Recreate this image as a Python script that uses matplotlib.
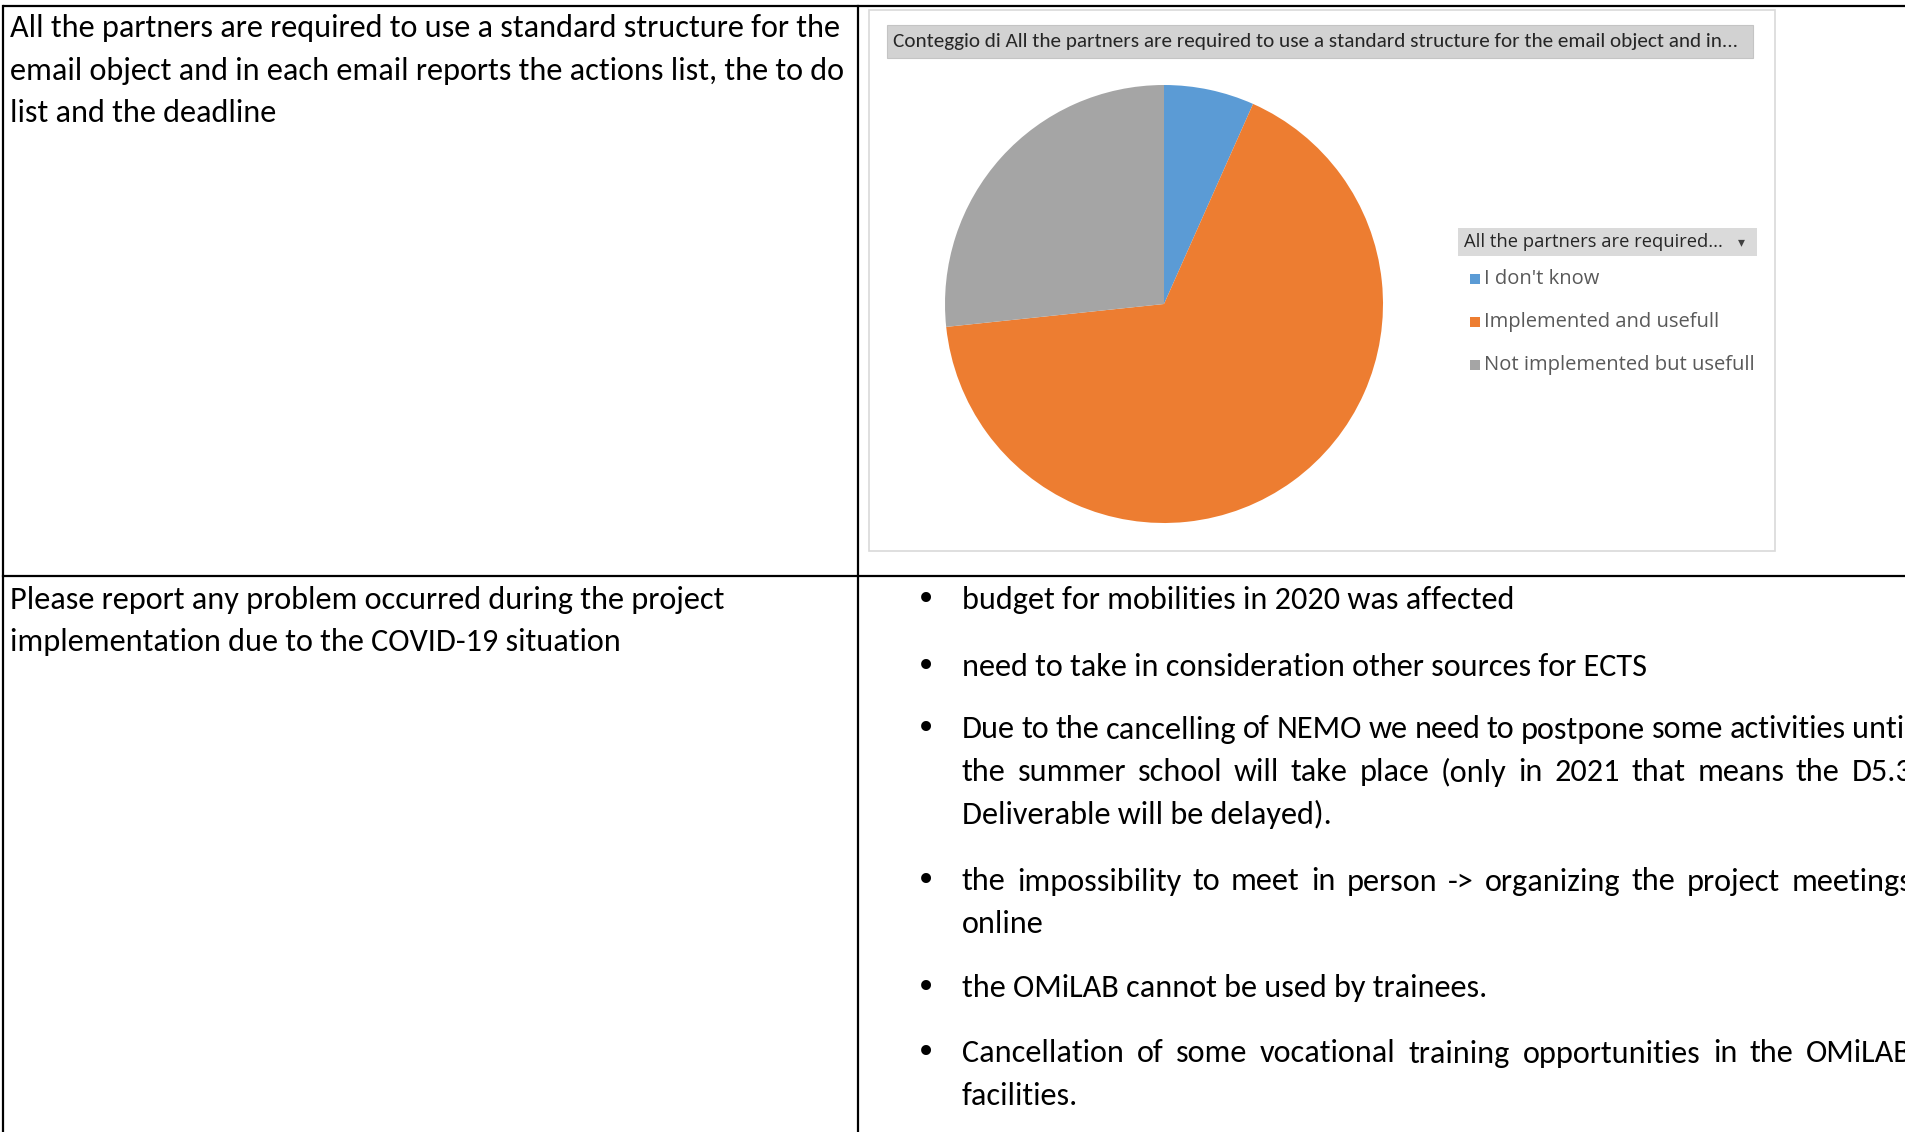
import matplotlib
matplotlib.use("Agg")
import matplotlib.pyplot as plt
from matplotlib import font_manager
from matplotlib.patches import Rectangle

# data
pie_labels = ["I don't know", "Implemented and usefull", "Not implemented but usefull"]
pie_counts = [1, 10, 4]
pie_colors = ["#5B9BD5", "#ED7D31", "#A5A5A5"]
chart_title = ("Conteggio di All the partners are required to use a standard structure "
               "for the email object and in...")
legend_title = "All the partners are required..."

question_1 = ["All the partners are required to use a standard structure for the",
              "email object and in each email reports the actions list, the to do",
              "list and the deadline"]
question_2 = ["Please report any problem occurred during the project",
              "implementation due to the COVID-19 situation"]
# each answer: list of wrapped lines, last line not justified
answers = [
    ["budget for mobilities in 2020 was affected"],
    ["need to take in consideration other sources for ECTS"],
    ["Due to the cancelling of NEMO we need to postpone some activities until",
     "the summer school will take place (only in 2021 that means the D5.3",
     "Deliverable will be delayed)."],
    ["the impossibility to meet in person -> organizing the project meetings",
     "online"],
    ["the OMiLAB cannot be used by trainees."],
    ["Cancellation of some vocational training opportunities in the OMiLAB",
     "facilities."],
]

W, H = 1905, 1132
fig = plt.figure(figsize=(W / 100, H / 100), dpi=100)
ax = fig.add_axes([0, 0, 1, 1])
ax.set_xlim(0, W)
ax.set_ylim(H, 0)
ax.axis("off")
renderer = fig.canvas.get_renderer()

installed = {f.name for f in font_manager.fontManager.ttflist}
def pick(names):
    for n in names:
        if n in installed:
            return n
    return "DejaVu Sans"

doc_font = pick(["Carlito", "Liberation Sans Narrow", "Open Sans Condensed", "Liberation Sans"])
ui_font = pick(["Open Sans", "Noto Sans", "DejaVu Sans"])

def text_width(s, size, family):
    t = ax.text(0, 0, s, fontsize=size, family=family)
    w = t.get_window_extent(renderer).width
    t.remove()
    return w

def fit(s, width, family):
    return 20 * width / text_width(s, 20, family)

def justify(x0, x1, y, s, size, family):
    words = s.split(" ")
    widths = [text_width(w, size, family) for w in words]
    gap = (x1 - x0 - sum(widths)) / (len(words) - 1)
    x = x0
    for w, wd in zip(words, widths):
        ax.text(x, y, w, fontsize=size, family=family, va="center", ha="left")
        x += wd + gap

# table lines
lw = 1.6
ax.plot([3, W], [6, 6], color="black", lw=lw, solid_capstyle="butt")
ax.plot([3, 3], [6, H], color="black", lw=lw)
ax.plot([858, 858], [6, H], color="black", lw=lw)
ax.plot([3, W], [576, 576], color="black", lw=lw)

body = fit(question_1[0], 832, doc_font)

for i, line in enumerate(question_1):
    ax.text(10, 28.5 + i * 42.5, line, fontsize=body, family=doc_font, va="center")
for i, line in enumerate(question_2):
    ax.text(10, 600.5 + i * 41.5, line, fontsize=body, family=doc_font, va="center")

# answers with bullets
starts = [600.5, 667.5, 729.5, 881.5, 988.5, 1053.5]
for y0, lines in zip(starts, answers):
    ax.text(926, y0, "\u2022", fontsize=body * 1.05, family="DejaVu Sans", va="center", ha="center")
    for j, line in enumerate(lines):
        y = y0 + j * 42.5
        if j < len(lines) - 1:
            justify(962, 1912, y, line, body, doc_font)
        else:
            ax.text(962, y, line, fontsize=body, family=doc_font, va="center")

# chart frame
ax.add_patch(Rectangle((869, 10), 906, 541, facecolor="white", edgecolor="#d9d9d9", lw=1.2))
ax.add_patch(Rectangle((887, 25), 866, 33, facecolor="#d2d2d2", edgecolor="#c4c4c4", lw=0.8))
ax.text(893, 41.5, chart_title, fontsize=fit(chart_title, 845, doc_font),
        family=doc_font, va="center", color="#262626")

# legend
ax.add_patch(Rectangle((1458, 228), 299, 28, facecolor="#dadada", edgecolor="none"))
ax.text(1464, 242, legend_title, fontsize=fit(legend_title, 258, ui_font),
        family=ui_font, va="center", color="#262626")
ax.text(1741, 242, "\u25be", fontsize=10, family="DejaVu Sans", va="center",
        ha="center", color="#404040")
leg_size = fit(pie_labels[2], 270, ui_font)
for k, (lab, col) in enumerate(zip(pie_labels, pie_colors)):
    y = 279 + k * 43
    ax.add_patch(Rectangle((1470, y - 5), 10, 10, facecolor=col, edgecolor="none"))
    ax.text(1484, y, lab, fontsize=leg_size, family=ui_font, va="center", color="#595959")

# pie
cx, cy, r = 1164, 304, 219
pax = fig.add_axes([(cx - r) / W, (H - cy - r) / H, 2 * r / W, 2 * r / H])
pax.pie(pie_counts, colors=pie_colors, startangle=90, counterclock=False,
        wedgeprops=dict(linewidth=0))
pax.set_xlim(-1, 1)
pax.set_ylim(-1, 1)
pax.axis("off")

fig.savefig("out.png", dpi=100)
